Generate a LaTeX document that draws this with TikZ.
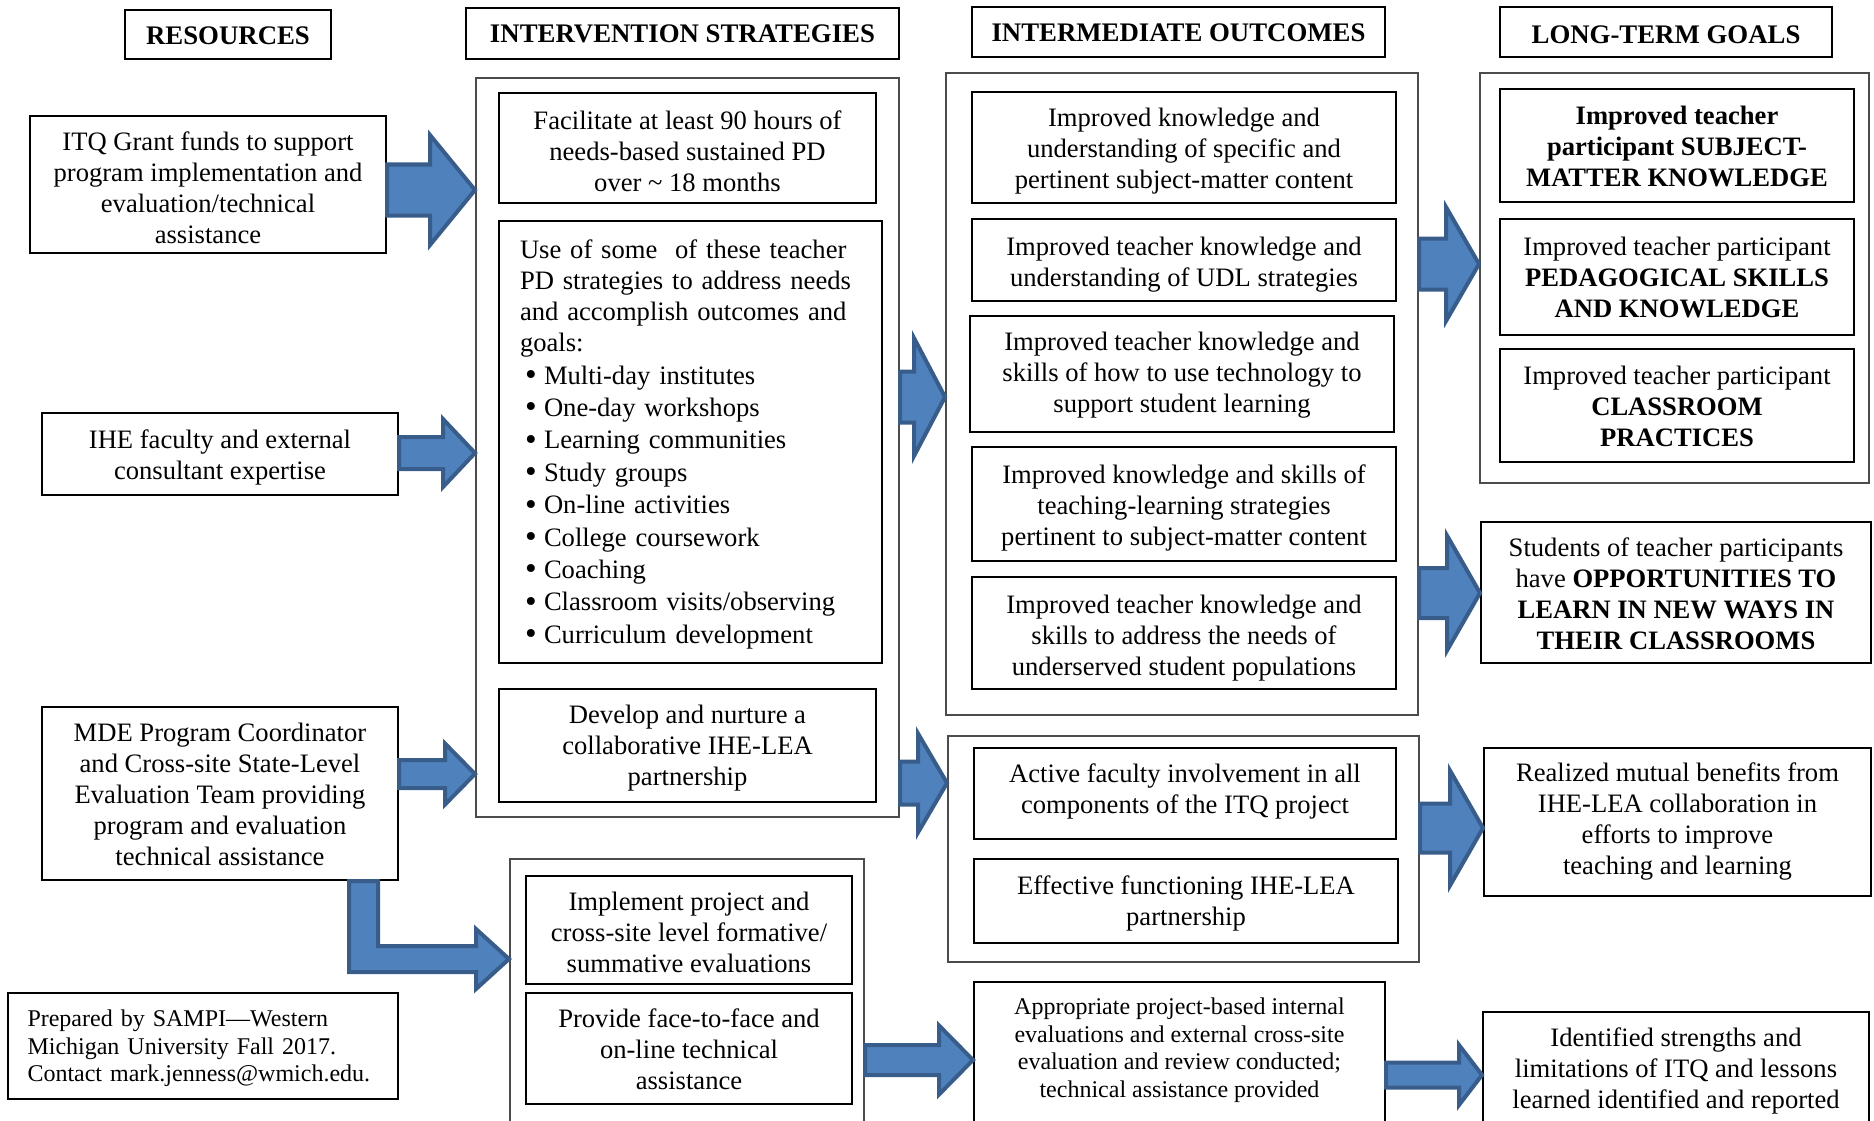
\documentclass[tikz,border=0pt]{standalone}
\usepackage{fontspec}
\setmainfont{Liberation Serif}
\usepackage{graphicx}
\usepackage{tikz}
\usetikzlibrary{positioning, calc}
\definecolor{arrowblue}{RGB}{79,129,189}
\definecolor{arrowedge}{RGB}{56,93,138}
% tail, tip, shaft half width, head half width, head length
\newcommand{\blockarrow}[5]{%
  \draw[bluearrow] let \p1=#1, \p2=#2 in
    (\x1,\y2+#3) -- (\x2-#5,\y2+#3) -- (\x2-#5,\y2+#4) -- (\p2)
    -- (\x2-#5,\y2-#4) -- (\x2-#5,\y2-#3) -- (\x1,\y2-#3) -- cycle;}
\newcommand{\pditem}[1]{\makebox[24pt][l]{\hspace{5pt}\raisebox{-1.5pt}{\scalebox{1.25}{\textbullet}}}#1}
% word-like line box: tall first line, deep last line (optional extra, pt)
\newcommand{\boxtop}[1][0]{\rule{0pt}{\dimexpr0.891em+#1pt\relax}}
\newcommand{\boxbot}[1][0]{\rule[\dimexpr-0.216em-#1pt\relax]{0pt}{\dimexpr0.216em+#1pt\relax}}
\newcommand{\boxdeep}[1]{\rule[\dimexpr-0.35em-#1pt\relax]{0pt}{\dimexpr0.35em+#1pt\relax}}

\begin{document}
\begin{tikzpicture}[x=1pt, y=-1pt]
\tikzstyle{box}=[draw=black, line width=2pt, align=center, inner sep=0pt, font=\fontsize{26.6pt}{31pt}\selectfont]
\tikzstyle{outbox}=[draw=black!70, line width=2pt, inner sep=0pt]
\tikzstyle{head}=[draw=black, line width=2pt, inner sep=0pt, font=\fontsize{26.8pt}{31pt}\selectfont\bfseries]
\tikzstyle{plaintext}=[align=center, inner sep=0pt, font=\fontsize{26.6pt}{31pt}\selectfont]
\tikzstyle{smalltext}=[align=center, inner sep=0pt, font=\fontsize{24pt}{27.5pt}\selectfont]
\tikzstyle{bluearrow}=[fill=arrowblue, draw=arrowedge, line width=4pt, line join=miter]

\useasboundingbox (0,0) rectangle (1874,1121);
\clip (0,0) rectangle (1874,1121);

%% headings
\node (hres) at (228,34.5) [head, minimum width=206pt, minimum height=49pt] {\rule{0pt}{20pt}RESOURCES};
\node (hstr) at (682.5,33.5) [head, minimum width=433pt, minimum height=51pt] {INTERVENTION STRATEGIES};
\node (hout) at (1178.5,32) [head, minimum width=413pt, minimum height=50pt] {\rule{0pt}{20pt}INTERMEDIATE OUTCOMES};
\node (hgoal) at (1666,32) [head, minimum width=332pt, minimum height=50pt] {\rule{0pt}{22.5pt}LONG-TERM GOALS};

%% outer frames
\node (stout) at (687.5,447.5) [outbox, minimum width=423pt, minimum height=739pt] {};
\node (evout) at (687,1009) [outbox, minimum width=354pt, minimum height=300pt] {};
\node (ocout1) at (1182,394) [outbox, minimum width=472pt, minimum height=642pt] {};
\node (ocout2) at (1183.5,849) [outbox, minimum width=471pt, minimum height=226pt] {};
\node (goout) at (1674.5,278) [outbox, minimum width=389pt, minimum height=410pt] {};

%% resources
\node (itq) at (208,184.5) [box, minimum width=356pt, minimum height=137pt] {\boxtop[7]ITQ Grant funds to support\\program implementation and\\evaluation/technical\\assistance\boxbot};
\node (ihe) at (220,454) [box, minimum width=356pt, minimum height=82pt] {\boxtop[2.4]IHE faculty and external\\consultant expertise\boxbot};
\node (mde) at (220,793.5) [box, minimum width=356pt, minimum height=173pt] {\boxtop[2.4]MDE Program Coordinator\\and Cross-site State-Level\\Evaluation Team providing\\program and evaluation\\technical assistance\boxbot};
\node (prep) at (203,1046) [box, align=left, text width=351pt, inner xsep=19.5pt, minimum height=106pt, font=\fontsize{24pt}{27.5pt}\selectfont] {\boxtop Prepared by SAMPI---Western\\Michigan University Fall 2017.\\Contact mark.jenness@wmich.edu.\boxbot};

%% strategies
\node (facil) at (687.5,148) [box, minimum width=377pt, minimum height=110pt] {\boxtop[7]Facilitate at least 90 hours of\\needs-based sustained PD\\over \textasciitilde{} 18 months\boxbot};
\node (useof) at (690.5,442) [box, align=left, text width=341pt, inner xsep=21pt, minimum height=442pt] {\boxtop Use of some\ \ of these teacher\\PD strategies to address needs\\and accomplish outcomes and\\goals:\\[1.4pt]
\pditem{Multi-day institutes}\\[1.4pt]
\pditem{One-day workshops}\\[1.4pt]
\pditem{Learning communities}\\[1.4pt]
\pditem{Study groups}\\[1.4pt]
\pditem{On-line activities}\\[1.4pt]
\pditem{College coursework}\\[1.4pt]
\pditem{Coaching}\\[1.4pt]
\pditem{Classroom visits/observing}\\[1.4pt]
\pditem{Curriculum development}\boxbot};
\node (devel) at (687.5,745.5) [box, minimum width=377pt, minimum height=113pt] {\boxtop[1]Develop and nurture a\\collaborative IHE-LEA\\partnership\boxbot};
\node (impl) at (689,930) [box, minimum width=326pt, minimum height=108pt] {\boxtop[6]Implement project and\\cross-site level formative/\\summative evaluations\boxbot};
\node (prov) at (689,1048.5) [box, minimum width=326pt, minimum height=111pt] {\boxtop[2.4]Provide face-to-face and\\on-line technical\\assistance\boxbot};

%% outcomes
\node (o1) at (1184,147.5) [box, minimum width=424pt, minimum height=111pt] {\boxtop[2.4]Improved knowledge and\\understanding of specific and\\pertinent subject-matter content\boxbot};
\node (o2) at (1184,260) [box, minimum width=424pt, minimum height=82pt] {\boxtop[5]Improved teacher knowledge and\\understanding of UDL strategies\boxbot};
\node (o3) at (1182,374) [box, minimum width=424pt, minimum height=116pt] {\boxtop Improved teacher knowledge and\\skills of how to use technology to\\support student learning\boxdeep{0}};
\node (o4) at (1184,504) [box, minimum width=424pt, minimum height=114pt] {\boxtop[3.6]Improved knowledge and skills of\\teaching-learning strategies\\pertinent to subject-matter content\boxbot};
\node (o5) at (1184,633) [box, minimum width=424pt, minimum height=112pt] {\boxtop[5]Improved teacher knowledge and\\skills to address the needs of\\underserved student populations\boxbot};
\node (act) at (1185,793.5) [box, minimum width=422pt, minimum height=91pt] {\boxtop Active faculty involvement in all\\components of the ITQ project\boxdeep{6}};
\node (eff) at (1186,901) [box, minimum width=424pt, minimum height=84pt] {\boxtop Effective functioning IHE-LEA\\partnership\boxbot};
\node (apprbox) at (1179.5,1082) [box, minimum width=411pt, minimum height=200pt] {};
\node (appr) at (1179.5,1050) [smalltext] {Appropriate project-based internal\\evaluations and external cross-site\\evaluation and review conducted;\\technical assistance provided};

%% goals
\node (g1) at (1677,145.5) [box, minimum width=354pt, minimum height=113pt] {\boxtop[2.4]\textbf{Improved teacher}\\\textbf{participant SUBJECT-}\\\textbf{MATTER KNOWLEDGE}\boxbot};
\node (g2) at (1677,277) [box, minimum width=354pt, minimum height=116pt] {\boxtop[1]Improved teacher participant\\\textbf{PEDAGOGICAL SKILLS}\\\textbf{AND KNOWLEDGE}\boxbot};
\node (g3) at (1677,405.5) [box, minimum width=354pt, minimum height=113pt] {\boxtop[2.4]Improved teacher participant\\\textbf{CLASSROOM}\\\textbf{PRACTICES}\boxbot};
\node (stud) at (1676,592.5) [box, minimum width=390pt, minimum height=141pt] {\boxtop[4]Students of teacher participants\\have \textbf{OPPORTUNITIES TO}\\\textbf{LEARN IN NEW WAYS IN}\\\textbf{THEIR CLASSROOMS}\boxbot};
\node (real) at (1677.5,822) [box, minimum width=387pt, minimum height=148pt] {\boxtop Realized mutual benefits from\\IHE-LEA collaboration in\\efforts to improve\\teaching and learning\boxdeep{2.4}};
\node (identbox) at (1676,1112) [box, minimum width=386pt, minimum height=200pt] {};
\node (ident) at (1676,1071) [plaintext] {Identified strengths and\\limitations of ITQ and lessons\\learned identified and reported};

%% block arrows
\blockarrow{(itq.east |- 0,190)}{(stout.west |- 0,190)}{25.5pt}{55pt}{45pt}
\blockarrow{(ihe.east |- 0,453)}{(stout.west |- 0,453)}{16pt}{34pt}{32pt}
\blockarrow{(mde.east |- 0,774)}{(stout.west |- 0,774)}{14pt}{30.5pt}{30pt}
\draw[bluearrow] (349,0 |- mde.south) -- (349,972) -- (476,972) -- (476,989) -- (evout.west |- 0,959) -- (476,929) -- (476,946) -- (378,946) -- (378,0 |- mde.south) -- cycle;
\blockarrow{(stout.east |- 0,397)}{(ocout1.west |- 0,397)}{25.5pt}{59pt}{31pt}
\blockarrow{(stout.east |- 0,783)}{(ocout2.west |- 0,783)}{21.5pt}{49.5pt}{29pt}
\blockarrow{(evout.east |- 0,1060)}{(apprbox.west |- 0,1060)}{15pt}{34.5pt}{34pt}
\blockarrow{(ocout1.east |- 0,264)}{(goout.west |- 0,264)}{25.5pt}{57pt}{33pt}
\blockarrow{(ocout1.east |- 0,593)}{(stud.west |- 0,593)}{25pt}{57.5pt}{33pt}
\blockarrow{(ocout2.east |- 0,828)}{(real.west |- 0,828)}{24.5pt}{57.5pt}{33pt}
\blockarrow{(apprbox.east |- 0,1075)}{(identbox.west |- 0,1075)}{12.5pt}{30pt}{23pt}
\end{tikzpicture}
\end{document}
